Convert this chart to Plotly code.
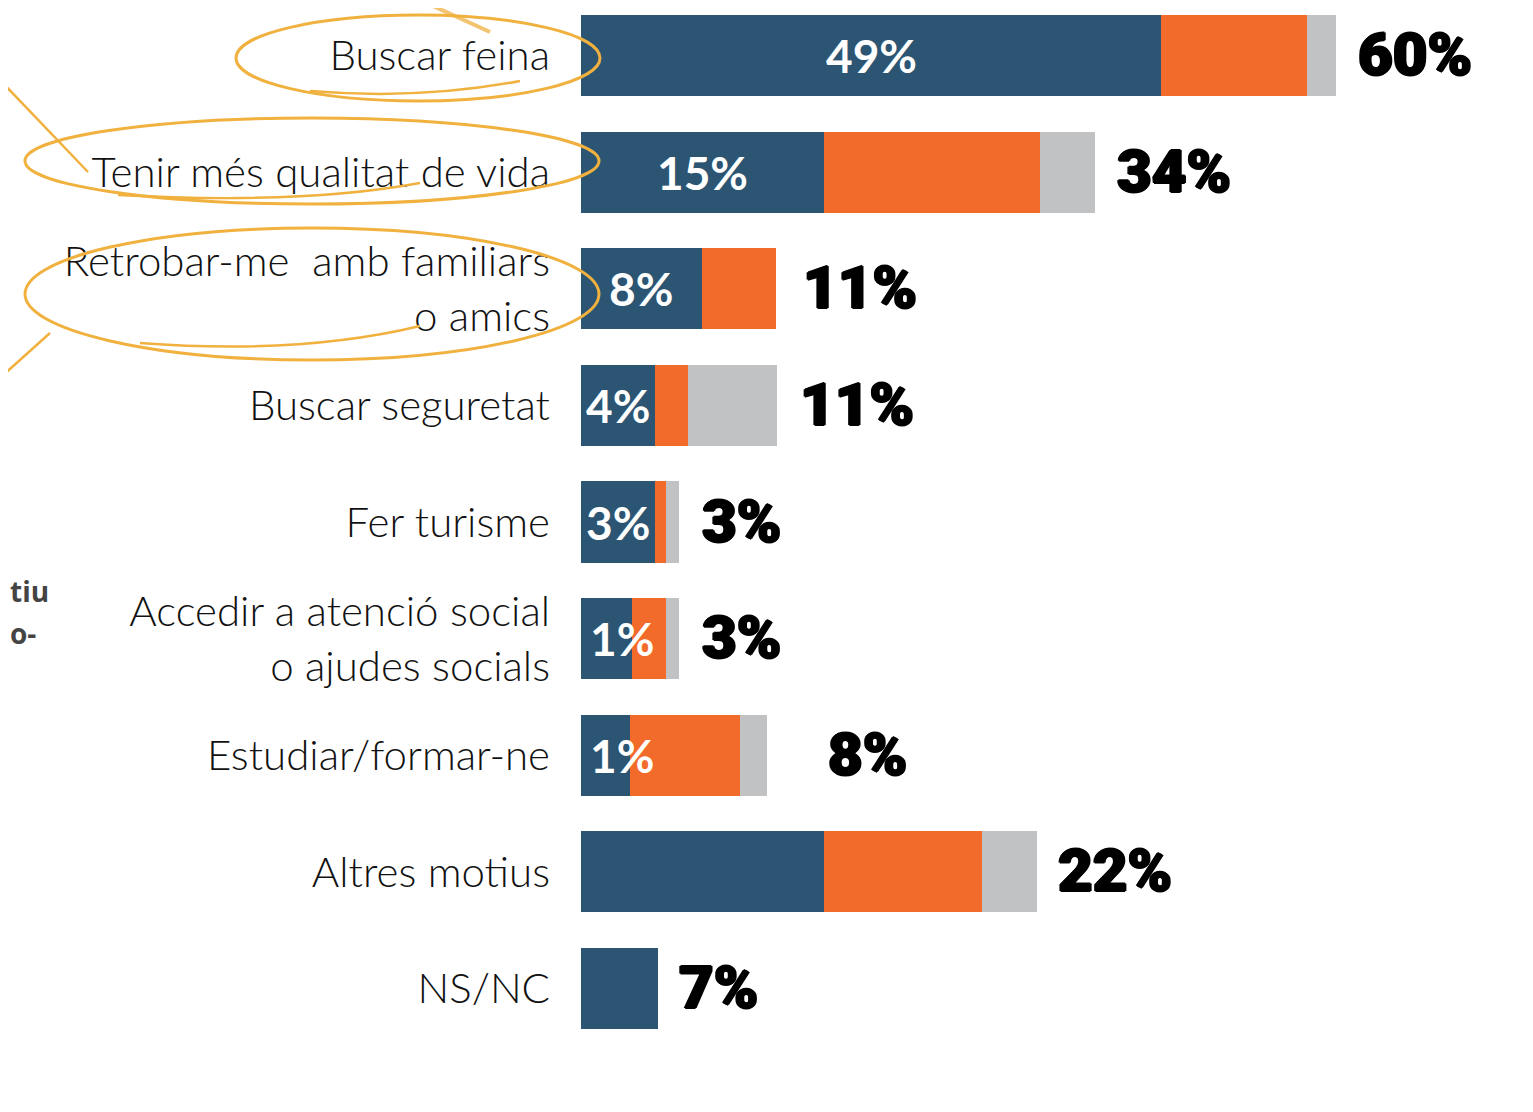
import plotly.graph_objects as go

# ---- data (segment lengths, percent units) ----
categories = [
    "Buscar feina",
    "Tenir més qualitat de vida",
    "Retrobar-me  amb familiars<br>o amics",
    "Buscar seguretat",
    "Fer turisme",
    "Accedir a atenció social<br>o ajudes socials",
    "Estudiar/formar-ne",
    "Altres motius",
    "NS/NC",
]
seg_blue = [49.0, 20.5, 10.2, 6.25, 6.25, 4.3, 4.15, 20.5, 6.5]
seg_orange = [12.3, 18.3, 6.3, 2.8, 0.95, 2.85, 9.3, 13.4, 0.0]
seg_gray = [2.45, 4.65, 0.0, 7.5, 1.1, 1.1, 2.3, 4.65, 0.0]
inner_labels = ["49%", "15%", "8%", "4%", "3%", "1%", "1%", "", ""]
total_labels = ["60%", "34%", "11%", "11%", "3%", "3%", "8%", "22%", "7%"]

# ---- style ----
BLUE = "#2B5573"
ORANGE = "#F26B2A"
GRAY = "#C1C2C4"
GOLD = "#F0B13F"
OFF = 8  # page body margin
W, H = 1533 - 2 * OFF, 1112 - 2 * OFF
ML, MR, MT, MB = 581 - OFF, 0, 0, 50
PW, PH = W - ML - MR, H - MT - MB
PX_PER_UNIT = 11.84
ROW_PITCH = 116.625
FIRST_ROW = 55.5 - OFF
LAST_ROW = 988.5 - OFF
total_shift = [20, 20, 25, 21, 21, 21, 59, 19, 19]
HEAVY = "1.2px 0 0 #000, -1.2px 0 0 #000, 0 1px 0 #000, 0 -1px 0 #000"


def px(x):
    return (x - OFF - ML) / PW


def py(y):
    return 1 - (y - OFF - MT) / PH


fig = go.Figure()
for vals, col in ((seg_blue, BLUE), (seg_orange, ORANGE), (seg_gray, GRAY)):
    fig.add_trace(go.Bar(
        y=categories, x=vals, orientation="h",
        marker=dict(color=col, line=dict(width=0)), hoverinfo="skip",
    ))

annotations = []
for i, cat in enumerate(categories):
    # inner label on the blue segment
    if inner_labels[i]:
        narrow = seg_blue[i] * PX_PER_UNIT < 60
        annotations.append(dict(
            x=0 if narrow else seg_blue[i] / 2, y=cat, xref="x", yref="y",
            text=inner_labels[i], showarrow=False,
            xanchor="left" if narrow else "center", xshift=7 if narrow else 0,
            yanchor="middle",
            font=dict(family="Lato", size=46, color="white", weight=700),
        ))
    tot = seg_blue[i] + seg_orange[i] + seg_gray[i]
    annotations.append(dict(
        x=tot, y=cat, xref="x", yref="y", text=total_labels[i], showarrow=False,
        xanchor="left", yanchor="middle", xshift=total_shift[i], yshift=1,
        font=dict(family="Roboto", size=60, color="black", weight=900, shadow=HEAVY),
    ))

# partial text at the left edge
annotations.append(dict(x=0, y=py(591), xref="paper", yref="paper", text="<b>tiu</b>",
                        showarrow=False, xanchor="left", yanchor="middle", xshift=-ML,
                        font=dict(family="Open Sans", size=28, color="#444444")))
annotations.append(dict(x=0, y=py(633), xref="paper", yref="paper", text="<b>o-</b>",
                        showarrow=False, xanchor="left", yanchor="middle", xshift=-ML,
                        font=dict(family="Open Sans", size=28, color="#444444")))

shapes = []


def ellipse(cx, cy, rx, ry):
    shapes.append(dict(type="circle", xref="paper", yref="paper",
                       x0=px(cx - rx), x1=px(cx + rx), y0=py(cy + ry), y1=py(cy - ry),
                       line=dict(color=GOLD, width=3), layer="above"))


def curve(x0, y0, cx, cy, x1, y1, width=2.5, opacity=1.0):
    path = f"M {px(x0)} {py(y0)} Q {px(cx)} {py(cy)} {px(x1)} {py(y1)}"
    shapes.append(dict(type="path", xref="paper", yref="paper", path=path,
                       line=dict(color=GOLD, width=width), opacity=opacity, layer="above"))


def seg(x0, y0, x1, y1, width=2.5, opacity=1.0):
    shapes.append(dict(type="line", xref="paper", yref="paper",
                       x0=px(x0), y0=py(y0), x1=px(x1), y1=py(y1),
                       line=dict(color=GOLD, width=width), opacity=opacity, layer="above"))


ellipse(418, 58, 182, 43)
curve(310, 91, 420, 100, 520, 81)
ellipse(312, 161, 287, 43)
curve(118, 195, 300, 205, 420, 183)
ellipse(312, 294, 287, 66)
curve(140, 343, 300, 355, 420, 326)

seg(420, 0, 490, 32, width=4, opacity=0.75)
seg(0, 80, 88, 172)
seg(50, 333, 0, 378)

fig.update_layout(
    width=W, height=H,
    margin=dict(l=ML, r=MR, t=MT, b=MB, pad=0),
    barmode="stack", bargap=0.305,
    plot_bgcolor="white", paper_bgcolor="white",
    showlegend=False,
    xaxis=dict(range=[0, PW / PX_PER_UNIT], visible=False, fixedrange=True),
    yaxis=dict(
        type="category", categoryorder="array", categoryarray=categories,
        range=[8 + (PH - LAST_ROW) / ROW_PITCH, -FIRST_ROW / ROW_PITCH],
        showgrid=False, zeroline=False, showline=False, ticks="",
        ticklabelstandoff=30,
        tickfont=dict(family="Lato", size=42, color="#111111", weight=300),
        fixedrange=True,
    ),
    annotations=annotations,
    shapes=shapes,
)

fig.write_html("out.html")
